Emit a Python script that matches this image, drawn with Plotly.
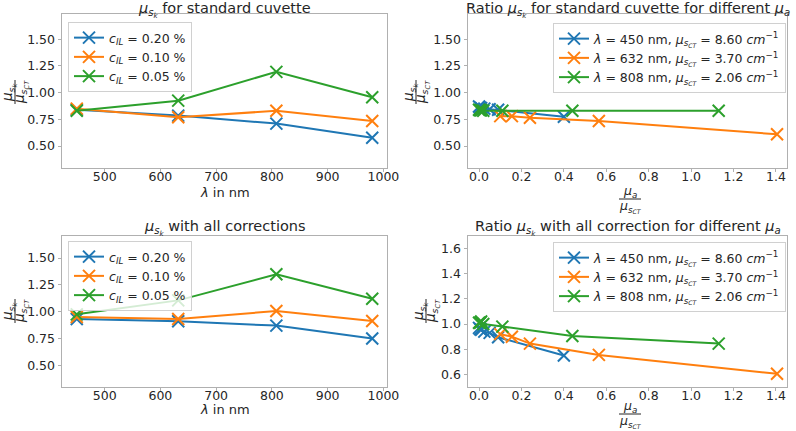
import plotly.graph_objects as go

W, H = 796, 431

# ---------------- data ----------------
wavelengths = [450, 632, 808, 980]
std_c020 = [0.84, 0.785, 0.71, 0.578]
std_c010 = [0.85, 0.77, 0.83, 0.735]
std_c005 = [0.83, 0.925, 1.195, 0.957]
corr_c020 = [0.932, 0.91, 0.87, 0.75]
corr_c010 = [0.95, 0.932, 1.006, 0.913]
corr_c005 = [0.975, 1.105, 1.348, 1.12]

ratio_450 = [0.0, 0.005, 0.01, 0.025, 0.05, 0.09, 0.40]
std_450 = [0.87, 0.86, 0.855, 0.85, 0.845, 0.84, 0.775]
corr_450 = [0.97, 0.96, 0.955, 0.94, 0.93, 0.895, 0.75]
ratio_632 = [0.10, 0.155, 0.24, 0.565, 1.405]
std_632 = [0.78, 0.78, 0.765, 0.735, 0.61]
corr_632 = [0.92, 0.90, 0.845, 0.755, 0.605]
ratio_808 = [0.0, 0.005, 0.01, 0.02, 0.11, 0.44, 1.13]
std_808 = [0.84, 0.835, 0.835, 0.83, 0.83, 0.83, 0.83]
corr_808 = [1.01, 1.01, 1.02, 1.00, 0.98, 0.905, 0.845]

conc_labels = ["<i>c<sub>IL</sub></i> = 0.20 %", "<i>c<sub>IL</sub></i> = 0.10 %", "<i>c<sub>IL</sub></i> = 0.05 %"]
wl_labels = [
    "<i>λ</i> = 450 nm, <i>μ<sub>s<sub>CT</sub></sub></i> = 8.60 <i>cm</i><sup>−1</sup>",
    "<i>λ</i> = 632 nm, <i>μ<sub>s<sub>CT</sub></sub></i> = 3.70 <i>cm</i><sup>−1</sup>",
    "<i>λ</i> = 808 nm, <i>μ<sub>s<sub>CT</sub></sub></i> = 2.06 <i>cm</i><sup>−1</sup>",
]
titles = [
    "<i>μ<sub>s<sub>k</sub></sub></i> for standard cuvette",
    "Ratio <i>μ<sub>s<sub>k</sub></sub></i> for standard cuvette for different <i>μ<sub>a</sub></i>",
    "<i>μ<sub>s<sub>k</sub></sub></i> with all corrections",
    "Ratio <i>μ<sub>s<sub>k</sub></sub></i> with all correction for different <i>μ<sub>a</sub></i>",
]

colors = ["#1f77b4", "#ff7f0e", "#2ca02c"]
FONT = "DejaVu Sans"
TXT = "#262626"


def px_x(p):
    return p / W


def px_y(p):
    return 1 - p / H


fig = go.Figure()

# axes pixel boxes: (left, right, top, bottom)
boxes = {
    1: (62, 387, 14, 168),
    2: (468, 787, 14, 168),
    3: (62, 387, 236, 387),
    4: (468, 787, 236, 387),
}


def add_series(xs, ys, name, color, ax, legend):
    fig.add_trace(go.Scatter(
        x=xs, y=ys, name=name, mode="lines+markers",
        line=dict(color=color, width=2),
        marker=dict(symbol="x-thin", size=12, line=dict(color=color, width=2), color=color),
        xaxis="x" if ax == 1 else f"x{ax}", yaxis="y" if ax == 1 else f"y{ax}",
        legend=legend,
    ))


for ys, lab, c in zip([std_c020, std_c010, std_c005], conc_labels, colors):
    add_series(wavelengths, ys, lab, c, 1, "legend")
for xs, ys, lab, c in zip([ratio_450, ratio_632, ratio_808], [std_450, std_632, std_808], wl_labels, colors):
    add_series(xs, ys, lab, c, 2, "legend2")
for ys, lab, c in zip([corr_c020, corr_c010, corr_c005], conc_labels, colors):
    add_series(wavelengths, ys, lab, c, 3, "legend3")
for xs, ys, lab, c in zip([ratio_450, ratio_632, ratio_808], [corr_450, corr_632, corr_808], wl_labels, colors):
    add_series(xs, ys, lab, c, 4, "legend4")

axis_common = dict(
    showline=True, mirror=True, linecolor="#b0b0b0", linewidth=1,
    showgrid=False, zeroline=False, ticks="outside", ticklen=3.5,
    tickcolor="#b0b0b0", tickfont=dict(family=FONT, size=12.5, color=TXT),
    automargin=False,
)

layout = dict(
    width=W, height=H, margin=dict(l=0, r=0, t=0, b=0, pad=0, autoexpand=False),
    paper_bgcolor="white", plot_bgcolor="white",
    font=dict(family=FONT, color=TXT), showlegend=True,
)

yranges = {1: [0.294, 1.737], 2: [0.294, 1.737], 3: [0.298, 1.705], 4: [0.5, 1.7]}
for i, (l, r, t, b) in boxes.items():
    xk = "xaxis" if i == 1 else f"xaxis{i}"
    yk = "yaxis" if i == 1 else f"yaxis{i}"
    xa = dict(axis_common, domain=[px_x(l), px_x(r)], anchor="y" if i == 1 else f"y{i}",
              ticklen=3, ticklabelstandoff=-6)
    ya = dict(axis_common, domain=[px_y(b), px_y(t)], anchor="x" if i == 1 else f"x{i}",
              range=yranges[i])
    if i in (1, 3):
        xa.update(range=[423.5, 1006.5], tickvals=[500, 600, 700, 800, 900, 1000])
        ya.update(tickvals=[0.5, 0.75, 1.0, 1.25, 1.5], ticktext=["0.50", "0.75", "1.00", "1.25", "1.50"])
    else:
        xa.update(range=[-0.052, 1.452], tickvals=[0, 0.2, 0.4, 0.6, 0.8, 1.0, 1.2, 1.4],
                  ticktext=["0.0", "0.2", "0.4", "0.6", "0.8", "1.0", "1.2", "1.4"])
        if i == 2:
            ya.update(tickvals=[0.5, 0.75, 1.0, 1.25, 1.5], ticktext=["0.50", "0.75", "1.00", "1.25", "1.50"])
        else:
            ya.update(tickvals=[0.6, 0.8, 1.0, 1.2, 1.4, 1.6], ticktext=["0.6", "0.8", "1.0", "1.2", "1.4", "1.6"])
    layout[xk] = xa
    layout[yk] = ya

leg_common = dict(
    bgcolor="rgba(255,255,255,0.8)", bordercolor="#d0d0d0", borderwidth=1,
    font=dict(family=FONT, size=12.5, color=TXT), yanchor="top",
    itemwidth=30, tracegroupgap=0,
)
layout["legend"] = dict(leg_common, x=px_x(68), xanchor="left", y=px_y(22))
layout["legend2"] = dict(leg_common, x=px_x(786), xanchor="right", y=px_y(23))
layout["legend3"] = dict(leg_common, x=px_x(68), xanchor="left", y=px_y(241))
layout["legend4"] = dict(leg_common, x=px_x(786), xanchor="right", y=px_y(242))

fig.update_layout(**layout)

annotations = []
shapes = []


def ann(text, x, y, size, angle=0):
    annotations.append(dict(
        text=text, x=px_x(x), y=px_y(y), xref="paper", yref="paper",
        showarrow=False, xanchor="center", yanchor="middle", textangle=angle,
        font=dict(family=FONT, size=size, color=TXT),
    ))


def hline(x0, x1, y):
    shapes.append(dict(type="line", xref="paper", yref="paper",
                       x0=px_x(x0), x1=px_x(x1), y0=px_y(y), y1=px_y(y),
                       line=dict(color=TXT, width=1)))


def vline(x, y0, y1):
    shapes.append(dict(type="line", xref="paper", yref="paper",
                       x0=px_x(x), x1=px_x(x), y0=px_y(y0), y1=px_y(y1),
                       line=dict(color=TXT, width=1)))


# titles
ann(titles[0], 224.5, 10, 14.5)
ann(titles[1], 628, 10, 14.5)
ann(titles[2], 224.5, 228, 14.5)
ann(titles[3], 628, 228, 14.5)

# x labels left
ann("<i>λ</i> in nm", 224.5, 193, 13)
ann("<i>λ</i> in nm", 224.5, 409, 13)

# x labels right (fractions)
for (yn, yl, yd) in [(191, 199, 206), (406, 414, 421)]:
    ann("<i>μ<sub>a</sub></i>", 630, yn, 12.5)
    hline(619, 641, yl)
    ann("<i>μ<sub>s<sub>CT</sub></sub></i>", 630, yd, 12.5)

# y labels (rotated fractions)
for (xn, xl, xd, yc) in [(9, 15, 21, 92), (410, 416, 422, 92), (9, 15, 21, 311), (420, 426, 432, 311)]:
    ann("<i>μ<sub>s<sub>k</sub></sub></i>", xn, yc, 13.5, angle=-90)
    vline(xl, yc - 12, yc + 12)
    ann("<i>μ<sub>s<sub>CT</sub></sub></i>", xd, yc, 13.5, angle=-90)

fig.update_layout(annotations=annotations, shapes=shapes)
fig.write_html("out.html", config={"displayModeBar": False},
               post_script="document.body.style.margin='0';document.body.style.overflow='hidden';")
